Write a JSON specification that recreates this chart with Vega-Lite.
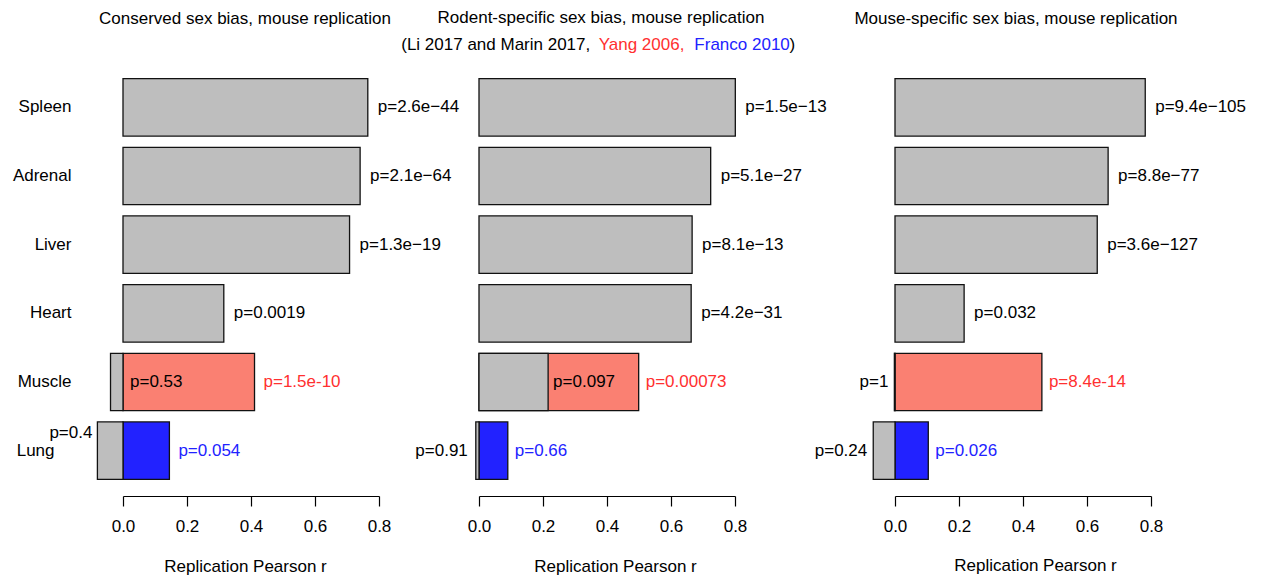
{
  "$schema": "https://vega.github.io/schema/vega-lite/v6.json",
  "background": "white",
  "autosize": {"type": "pad"},
  "padding": {"left": 12, "top": 9, "right": 5, "bottom": 2},
  "config": {
    "font": "Liberation Sans",
    "view": {"stroke": null},
    "text": {"font": "Liberation Sans", "fontSize": 17},
    "title": {"font": "Liberation Sans", "fontSize": 17, "fontWeight": "normal", "color": "black", "anchor": "middle"},
    "axis": {"labelFont": "Liberation Sans", "titleFont": "Liberation Sans"}
  },
  "datasets": {
    "bars": [
      {"panel": "Conserved", "tissue": "Spleen", "source": "Li 2017 and Marin 2017", "r": 0.765, "label": "p=2.6e−44"},
      {"panel": "Conserved", "tissue": "Adrenal", "source": "Li 2017 and Marin 2017", "r": 0.741, "label": "p=2.1e−64"},
      {"panel": "Conserved", "tissue": "Liver", "source": "Li 2017 and Marin 2017", "r": 0.708, "label": "p=1.3e−19"},
      {"panel": "Conserved", "tissue": "Heart", "source": "Li 2017 and Marin 2017", "r": 0.315, "label": "p=0.0019"},
      {"panel": "Conserved", "tissue": "Muscle", "source": "Li 2017 and Marin 2017", "r": -0.039, "label": "p=0.53"},
      {"panel": "Conserved", "tissue": "Muscle", "source": "Yang 2006", "r": 0.411, "label": "p=1.5e-10"},
      {"panel": "Conserved", "tissue": "Lung", "source": "Li 2017 and Marin 2017", "r": -0.080, "label": "p=0.4"},
      {"panel": "Conserved", "tissue": "Lung", "source": "Franco 2010", "r": 0.145, "label": "p=0.054"},
      {"panel": "Rodent-specific", "tissue": "Spleen", "source": "Li 2017 and Marin 2017", "r": 0.801, "label": "p=1.5e−13"},
      {"panel": "Rodent-specific", "tissue": "Adrenal", "source": "Li 2017 and Marin 2017", "r": 0.724, "label": "p=5.1e−27"},
      {"panel": "Rodent-specific", "tissue": "Liver", "source": "Li 2017 and Marin 2017", "r": 0.666, "label": "p=8.1e−13"},
      {"panel": "Rodent-specific", "tissue": "Heart", "source": "Li 2017 and Marin 2017", "r": 0.663, "label": "p=4.2e−31"},
      {"panel": "Rodent-specific", "tissue": "Muscle", "source": "Li 2017 and Marin 2017", "r": 0.216, "label": "p=0.097"},
      {"panel": "Rodent-specific", "tissue": "Muscle", "source": "Yang 2006", "r": 0.499, "label": "p=0.00073"},
      {"panel": "Rodent-specific", "tissue": "Lung", "source": "Li 2017 and Marin 2017", "r": -0.010, "label": "p=0.91"},
      {"panel": "Rodent-specific", "tissue": "Lung", "source": "Franco 2010", "r": 0.090, "label": "p=0.66"},
      {"panel": "Mouse-specific", "tissue": "Spleen", "source": "Li 2017 and Marin 2017", "r": 0.782, "label": "p=9.4e−105"},
      {"panel": "Mouse-specific", "tissue": "Adrenal", "source": "Li 2017 and Marin 2017", "r": 0.666, "label": "p=8.8e−77"},
      {"panel": "Mouse-specific", "tissue": "Liver", "source": "Li 2017 and Marin 2017", "r": 0.632, "label": "p=3.6e−127"},
      {"panel": "Mouse-specific", "tissue": "Heart", "source": "Li 2017 and Marin 2017", "r": 0.216, "label": "p=0.032"},
      {"panel": "Mouse-specific", "tissue": "Muscle", "source": "Li 2017 and Marin 2017", "r": -0.002, "label": "p=1"},
      {"panel": "Mouse-specific", "tissue": "Muscle", "source": "Yang 2006", "r": 0.459, "label": "p=8.4e-14"},
      {"panel": "Mouse-specific", "tissue": "Lung", "source": "Li 2017 and Marin 2017", "r": -0.068, "label": "p=0.24"},
      {"panel": "Mouse-specific", "tissue": "Lung", "source": "Franco 2010", "r": 0.104, "label": "p=0.026"}
    ],
    "sub": [
      {"piece": "(Li 2017 and Marin 2017,", "source": "Li 2017 and Marin 2017"},
      {"piece": "Yang 2006,", "source": "Yang 2006"},
      {"piece": "Franco 2010", "source": "Franco 2010"},
      {"piece": ")", "source": "Li 2017 and Marin 2017"}
    ]
  },
  "bounds": "flush",
  "spacing": 100,
  "hconcat": [
    {
      "width": 256,
      "height": 412,
      "title": {"text": "Conserved sex bias, mouse replication", "dx": -6, "offset": 45},
      "data": {"name": "bars"},
      "transform": [{"filter": "datum.panel == 'Conserved'"}],
      "layer": [
        {
          "transform": [{"filter": "datum.source != 'Li 2017 and Marin 2017'"}],
          "mark": {"type": "bar", "stroke": "#111111", "strokeWidth": 1.3},
          "encoding": {
            "x": {"field": "r", "type": "quantitative", "scale": {"domain": [0, 0.8], "nice": false, "zero": false},
              "axis": {"title": "Replication Pearson r", "values": [0, 0.2, 0.4, 0.6, 0.8], "format": ".1f", "grid": false, "offset": 11, "tickSize": 10, "tickColor": "black", "domainColor": "black", "tickWidth": 1.2, "domainWidth": 1.2, "labelFontSize": 17, "labelColor": "black", "labelPadding": 12, "labelFlush": false, "labelOverlap": false, "titleFontSize": 17, "titleFontWeight": "normal", "titleColor": "black", "titlePadding": 24, "titleX": 122}},
            "x2": {"datum": 0},
            "y": {"field": "tissue", "type": "nominal", "sort": ["Spleen", "Adrenal", "Liver", "Heart", "Muscle", "Lung"], "scale": {"paddingInner": 0.164, "paddingOuter": 0.082},
              "axis": {"title": null, "domain": false, "ticks": false, "labelFontSize": 17, "labelColor": "black", "labelAlign": "right", "labelPadding": {"condition": {"test": "datum.value == 'Lung'", "value": 69}, "value": 52}}},
            "color": {"field": "source", "type": "nominal", "scale": {"domain": ["Li 2017 and Marin 2017", "Yang 2006", "Franco 2010"], "range": ["#bebebe", "#fa8072", "#2222ff"]}, "legend": null}
          }
        },
        {
          "transform": [{"filter": "datum.source == 'Li 2017 and Marin 2017'"}],
          "mark": {"type": "bar", "stroke": "#111111", "strokeWidth": 1.3},
          "encoding": {
            "x": {"field": "r", "type": "quantitative"},
            "x2": {"datum": 0},
            "y": {"field": "tissue", "type": "nominal", "sort": ["Spleen", "Adrenal", "Liver", "Heart", "Muscle", "Lung"]},
            "color": {"field": "source", "type": "nominal", "legend": null}
          }
        },
        {
          "transform": [{"filter": "datum.source == 'Li 2017 and Marin 2017' && datum.tissue != 'Muscle' && datum.tissue != 'Lung'"}],
          "mark": {"type": "text", "align": "left", "baseline": "middle", "dx": 10, "color": "black"},
          "encoding": {
            "x": {"field": "r", "type": "quantitative"},
            "y": {"field": "tissue", "type": "nominal", "sort": ["Spleen", "Adrenal", "Liver", "Heart", "Muscle", "Lung"]},
            "text": {"field": "label"}
          }
        },
        {
          "transform": [{"filter": "datum.source != 'Li 2017 and Marin 2017'"}],
          "mark": {"type": "text", "align": "left", "baseline": "middle", "dx": 9},
          "encoding": {
            "x": {"field": "r", "type": "quantitative"},
            "y": {"field": "tissue", "type": "nominal", "sort": ["Spleen", "Adrenal", "Liver", "Heart", "Muscle", "Lung"]},
            "text": {"field": "label"},
            "fill": {"field": "source", "type": "nominal", "scale": {"domain": ["Li 2017 and Marin 2017", "Yang 2006", "Franco 2010"], "range": ["#000000", "#ff3030", "#2222ff"]}, "legend": null}
          }
        },
        {
          "transform": [{"filter": "datum.source == 'Li 2017 and Marin 2017' && datum.tissue == 'Muscle'"}],
          "mark": {"type": "text", "align": "left", "baseline": "middle", "dx": 7, "color": "black"},
          "encoding": {
            "x": {"datum": 0, "type": "quantitative"},
            "y": {"field": "tissue", "type": "nominal", "sort": ["Spleen", "Adrenal", "Liver", "Heart", "Muscle", "Lung"]},
            "text": {"field": "label"}
          }
        },
        {
          "transform": [{"filter": "datum.source == 'Li 2017 and Marin 2017' && datum.tissue == 'Lung'"}],
          "mark": {"type": "text", "align": "right", "baseline": "middle", "dx": -5, "dy": -18, "color": "black"},
          "encoding": {
            "x": {"field": "r", "type": "quantitative"},
            "y": {"field": "tissue", "type": "nominal", "sort": ["Spleen", "Adrenal", "Liver", "Heart", "Muscle", "Lung"]},
            "text": {"field": "label"}
          }
        }
      ]
    },
    {
      "width": 256,
      "height": 412,
      "title": {"text": "Rodent-specific sex bias, mouse replication", "dx": -6, "offset": 9},
      "resolve": {"scale": {"y": "independent"}},
      "layer": [
        {
          "data": {"name": "bars"},
          "transform": [{"filter": "datum.panel == 'Rodent-specific'"}],
          "layer": [
            {
              "transform": [{"filter": "datum.source != 'Li 2017 and Marin 2017'"}],
              "mark": {"type": "bar", "stroke": "#111111", "strokeWidth": 1.3},
              "encoding": {
                "x": {"field": "r", "type": "quantitative", "scale": {"domain": [0, 0.8], "nice": false, "zero": false},
                  "axis": {"title": "Replication Pearson r", "values": [0, 0.2, 0.4, 0.6, 0.8], "format": ".1f", "grid": false, "offset": 11, "tickSize": 10, "tickColor": "black", "domainColor": "black", "tickWidth": 1.2, "domainWidth": 1.2, "labelFontSize": 17, "labelColor": "black", "labelPadding": 12, "labelFlush": false, "labelOverlap": false, "titleFontSize": 17, "titleFontWeight": "normal", "titleColor": "black", "titlePadding": 24, "titleX": 136}},
                "x2": {"datum": 0},
                "y": {"field": "tissue", "type": "nominal", "sort": ["Spleen", "Adrenal", "Liver", "Heart", "Muscle", "Lung"], "scale": {"paddingInner": 0.164, "paddingOuter": 0.082}, "axis": null},
                "color": {"field": "source", "type": "nominal", "scale": {"domain": ["Li 2017 and Marin 2017", "Yang 2006", "Franco 2010"], "range": ["#bebebe", "#fa8072", "#2222ff"]}, "legend": null}
              }
            },
            {
              "transform": [{"filter": "datum.source == 'Li 2017 and Marin 2017'"}],
              "mark": {"type": "bar", "stroke": "#111111", "strokeWidth": 1.3},
              "encoding": {
                "x": {"field": "r", "type": "quantitative"},
                "x2": {"datum": 0},
                "y": {"field": "tissue", "type": "nominal", "sort": ["Spleen", "Adrenal", "Liver", "Heart", "Muscle", "Lung"]},
                "color": {"field": "source", "type": "nominal", "legend": null}
              }
            },
            {
              "transform": [{"filter": "datum.source == 'Li 2017 and Marin 2017' && datum.tissue != 'Muscle' && datum.tissue != 'Lung'"}],
              "mark": {"type": "text", "align": "left", "baseline": "middle", "dx": 10, "color": "black"},
              "encoding": {
                "x": {"field": "r", "type": "quantitative"},
                "y": {"field": "tissue", "type": "nominal", "sort": ["Spleen", "Adrenal", "Liver", "Heart", "Muscle", "Lung"]},
                "text": {"field": "label"}
              }
            },
            {
              "transform": [{"filter": "datum.source != 'Li 2017 and Marin 2017'"}],
              "mark": {"type": "text", "align": "left", "baseline": "middle", "dx": 7},
              "encoding": {
                "x": {"field": "r", "type": "quantitative"},
                "y": {"field": "tissue", "type": "nominal", "sort": ["Spleen", "Adrenal", "Liver", "Heart", "Muscle", "Lung"]},
                "text": {"field": "label"},
                "fill": {"field": "source", "type": "nominal", "scale": {"domain": ["Li 2017 and Marin 2017", "Yang 2006", "Franco 2010"], "range": ["#000000", "#ff3030", "#2222ff"]}, "legend": null}
              }
            },
            {
              "transform": [{"filter": "datum.source == 'Li 2017 and Marin 2017' && datum.tissue == 'Muscle'"}],
              "mark": {"type": "text", "align": "left", "baseline": "middle", "dx": 5, "color": "black"},
              "encoding": {
                "x": {"field": "r", "type": "quantitative"},
                "y": {"field": "tissue", "type": "nominal", "sort": ["Spleen", "Adrenal", "Liver", "Heart", "Muscle", "Lung"]},
                "text": {"field": "label"}
              }
            },
            {
              "transform": [{"filter": "datum.source == 'Li 2017 and Marin 2017' && datum.tissue == 'Lung'"}],
              "mark": {"type": "text", "align": "right", "baseline": "middle", "dx": -8, "color": "black"},
              "encoding": {
                "x": {"field": "r", "type": "quantitative"},
                "y": {"field": "tissue", "type": "nominal", "sort": ["Spleen", "Adrenal", "Liver", "Heart", "Muscle", "Lung"]},
                "text": {"field": "label"}
              }
            }
          ]
        },
        {
          "data": {"name": "sub"},
          "transform": [{"filter": "datum.piece == '(Li 2017 and Marin 2017,'"}],
          "mark": {"type": "text", "align": "left", "baseline": "alphabetic"},
          "encoding": {
            "x": {"datum": -0.243, "type": "quantitative"},
            "y": {"datum": 1.055, "type": "quantitative", "scale": {"domain": [0, 1], "nice": false, "zero": false}, "axis": null},
            "text": {"field": "piece"},
            "fill": {"field": "source", "type": "nominal", "legend": null}
          }
        },
        {
          "data": {"name": "sub"},
          "transform": [{"filter": "datum.piece == 'Yang 2006,'"}],
          "mark": {"type": "text", "align": "left", "baseline": "alphabetic"},
          "encoding": {
            "x": {"datum": 0.374, "type": "quantitative"},
            "y": {"datum": 1.055, "type": "quantitative", "scale": {"domain": [0, 1], "nice": false, "zero": false}, "axis": null},
            "text": {"field": "piece"},
            "fill": {"field": "source", "type": "nominal", "legend": null}
          }
        },
        {
          "data": {"name": "sub"},
          "transform": [{"filter": "datum.piece == 'Franco 2010'"}],
          "mark": {"type": "text", "align": "left", "baseline": "alphabetic"},
          "encoding": {
            "x": {"datum": 0.673, "type": "quantitative"},
            "y": {"datum": 1.055, "type": "quantitative", "scale": {"domain": [0, 1], "nice": false, "zero": false}, "axis": null},
            "text": {"field": "piece"},
            "fill": {"field": "source", "type": "nominal", "legend": null}
          }
        },
        {
          "data": {"name": "sub"},
          "transform": [{"filter": "datum.piece == ')'"}],
          "mark": {"type": "text", "align": "left", "baseline": "alphabetic"},
          "encoding": {
            "x": {"datum": 0.970, "type": "quantitative"},
            "y": {"datum": 1.055, "type": "quantitative", "scale": {"domain": [0, 1], "nice": false, "zero": false}, "axis": null},
            "text": {"field": "piece"},
            "fill": {"field": "source", "type": "nominal", "legend": null}
          }
        }
      ]
    },
    {
      "width": 316,
      "height": 412,
      "title": {"text": "Mouse-specific sex bias, mouse replication", "dx": 23, "offset": 45},
      "data": {"name": "bars"},
      "transform": [{"filter": "datum.panel == 'Mouse-specific'"}],
      "layer": [
        {
          "transform": [{"filter": "datum.source != 'Li 2017 and Marin 2017'"}],
          "mark": {"type": "bar", "stroke": "#111111", "strokeWidth": 1.3},
          "encoding": {
            "x": {"field": "r", "type": "quantitative", "scale": {"domain": [0, 0.8], "range": [60, 316], "nice": false, "zero": false},
              "axis": {"title": "Replication Pearson r", "values": [0, 0.2, 0.4, 0.6, 0.8], "format": ".1f", "grid": false, "offset": 11, "tickSize": 10, "tickColor": "black", "domainColor": "black", "tickWidth": 1.2, "domainWidth": 1.2, "labelFontSize": 17, "labelColor": "black", "labelPadding": 12, "labelFlush": false, "labelOverlap": false, "titleFontSize": 17, "titleFontWeight": "normal", "titleColor": "black", "titlePadding": 23, "titleX": 200}},
            "x2": {"datum": 0},
            "y": {"field": "tissue", "type": "nominal", "sort": ["Spleen", "Adrenal", "Liver", "Heart", "Muscle", "Lung"], "scale": {"paddingInner": 0.164, "paddingOuter": 0.082}, "axis": null},
            "color": {"field": "source", "type": "nominal", "scale": {"domain": ["Li 2017 and Marin 2017", "Yang 2006", "Franco 2010"], "range": ["#bebebe", "#fa8072", "#2222ff"]}, "legend": null}
          }
        },
        {
          "transform": [{"filter": "datum.source == 'Li 2017 and Marin 2017'"}],
          "mark": {"type": "bar", "stroke": "#111111", "strokeWidth": 1.3},
          "encoding": {
            "x": {"field": "r", "type": "quantitative"},
            "x2": {"datum": 0},
            "y": {"field": "tissue", "type": "nominal", "sort": ["Spleen", "Adrenal", "Liver", "Heart", "Muscle", "Lung"]},
            "color": {"field": "source", "type": "nominal", "legend": null}
          }
        },
        {
          "transform": [{"filter": "datum.source == 'Li 2017 and Marin 2017' && datum.tissue != 'Muscle' && datum.tissue != 'Lung'"}],
          "mark": {"type": "text", "align": "left", "baseline": "middle", "dx": 10, "color": "black"},
          "encoding": {
            "x": {"field": "r", "type": "quantitative"},
            "y": {"field": "tissue", "type": "nominal", "sort": ["Spleen", "Adrenal", "Liver", "Heart", "Muscle", "Lung"]},
            "text": {"field": "label"}
          }
        },
        {
          "transform": [{"filter": "datum.source != 'Li 2017 and Marin 2017'"}],
          "mark": {"type": "text", "align": "left", "baseline": "middle", "dx": 7},
          "encoding": {
            "x": {"field": "r", "type": "quantitative"},
            "y": {"field": "tissue", "type": "nominal", "sort": ["Spleen", "Adrenal", "Liver", "Heart", "Muscle", "Lung"]},
            "text": {"field": "label"},
            "fill": {"field": "source", "type": "nominal", "scale": {"domain": ["Li 2017 and Marin 2017", "Yang 2006", "Franco 2010"], "range": ["#000000", "#ff3030", "#2222ff"]}, "legend": null}
          }
        },
        {
          "transform": [{"filter": "datum.source == 'Li 2017 and Marin 2017' && (datum.tissue == 'Muscle' || datum.tissue == 'Lung')"}],
          "mark": {"type": "text", "align": "right", "baseline": "middle", "dx": -6, "color": "black"},
          "encoding": {
            "x": {"field": "r", "type": "quantitative"},
            "y": {"field": "tissue", "type": "nominal", "sort": ["Spleen", "Adrenal", "Liver", "Heart", "Muscle", "Lung"]},
            "text": {"field": "label"}
          }
        }
      ]
    }
  ]
}
